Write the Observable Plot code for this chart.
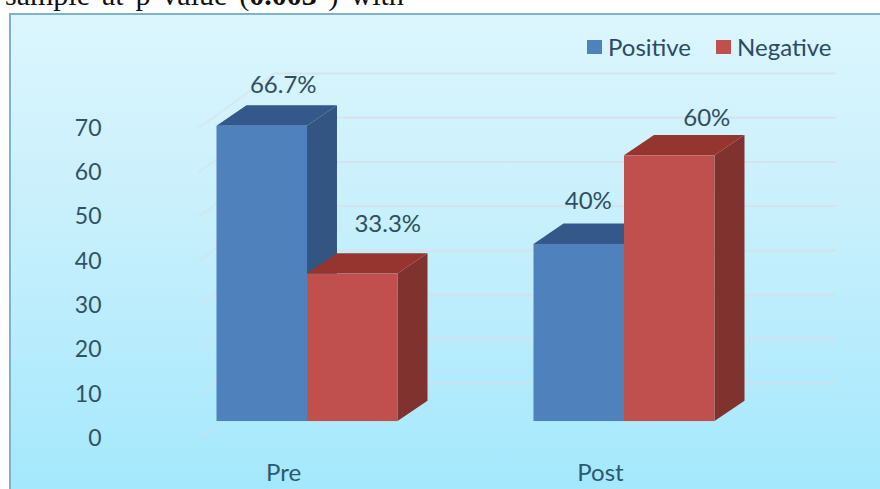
<!DOCTYPE html>
<html>
<head>
<meta charset="utf-8">
<script src="https://cdn.jsdelivr.net/npm/d3@7"></script>
<script src="https://cdn.jsdelivr.net/npm/@observablehq/plot@0.6"></script>
<style>
  html, body { margin: 0; padding: 0; background: #fff; overflow: hidden; }
  #stage { position: relative; width: 880px; height: 489px; overflow: hidden; font-family: Lato, sans-serif; }
  #intro { position: absolute; left: 5px; top: -22px; font: 30px/34px "Liberation Serif", serif; color: #111; word-spacing: 4.4px; white-space: nowrap; }
  #panel { position: absolute; left: 9px; top: 13px; width: 880px; height: 490px; box-sizing: border-box;
           border: 2px solid #7fb2c9; border-right: 0; border-bottom: 0;
           background: linear-gradient(#dcf6fd 0%, #c6effc 45%, #a2e8fd 100%); }
  #chart { position: absolute; left: 0; top: 0; }
  #chart svg { background: none; }
  #legend { position: absolute; top: 32px; left: 587px; display: flex; align-items: center; font-size: 24px; color: #2b4a66; }
  #legend span.sw { display: inline-block; width: 15px; height: 14px; margin-right: 6px; }
  #legend span.name { margin-right: 25px; }
</style>
</head>
<body>
<div id="stage">
  <div id="intro">sample at p value (<b>0.003</b> ) with</div>
  <div id="panel"></div>
  <div id="chart"></div>
  <div id="legend"></div>
</div>
<script>
// Share of positive and negative results before and after, as 3D clustered columns.
const categories = ["Pre", "Post"];
const seriesNames = ["Positive", "Negative"];
const positive = [66.7, 40];
const negative = [33.3, 60];
const yTicks = [0, 10, 20, 30, 40, 50, 60, 70];

const palette = {
  Positive: { front: "#4f81bd", top: "#35588a", side: "#335581" },
  Negative: { front: "#c0504d", top: "#96352f", side: "#80322e" }
};

// Oblique projection: how far each plane is lifted and shifted, in data units.
const barWidth = 0.2855;
const barLift = 3.6, barDepthY = 4.6, barDepthX = 0.0946;
const wallLift = 12.2, wallDepthX = 0.2366;
const wallLeft = -0.3413, wallRight = 1.6697;

// Label placement relative to the top of each column (pixels).
const labelNudge = { "Pre|Positive": [21, -20], "Pre|Negative": [35, -29], "Post|Positive": [9, -23], "Post|Negative": [37, -17] };

const bars = categories.flatMap((category, i) => [
  { category, series: "Positive", value: positive[i], x1: i - barWidth, x2: i },
  { category, series: "Negative", value: negative[i], x1: i, x2: i + barWidth }
]);

const grid = yTicks.map((v) => ({ v, back: v + wallLift }));

// Each column is a front rectangle plus top and side parallelograms.
const columnMarks = bars.flatMap((b) => {
  const base = barLift, top = b.value + barLift;
  const side = [
    { x: b.x2, y1: base, y2: top },
    { x: b.x2 + barDepthX, y1: base + barDepthY, y2: top + barDepthY }
  ];
  const lid = [
    { y: top, x1: b.x1, x2: b.x2 },
    { y: top + barDepthY, x1: b.x1 + barDepthX, x2: b.x2 + barDepthX }
  ];
  return [
    Plot.areaY(side, { x: "x", y1: "y1", y2: "y2", fill: palette[b.series].side }),
    Plot.areaX(lid, { y: "y", x1: "x1", x2: "x2", fill: palette[b.series].top }),
    Plot.rect([b], { x1: "x1", x2: "x2", y1: () => base, y2: () => top, fill: palette[b.series].front })
  ];
});

const labelMarks = bars.map((b) => {
  const [dx, dy] = labelNudge[`${b.category}|${b.series}`];
  return Plot.text([b], {
    x: (d) => (d.x1 + d.x2) / 2,
    y: (d) => d.value + barLift + barDepthY,
    text: (d) => `${d.value}%`,
    dx, dy,
    fontSize: 24,
    fill: "#2f4f60"
  });
});

const chart = Plot.plot({
  width: 880,
  height: 489,
  marginTop: 0, marginRight: 0, marginBottom: 34, marginLeft: 105,
  style: { fontFamily: "Lato, sans-serif", background: "none" },
  x: { type: "linear", domain: [0, 1], range: [307, 624], axis: null },
  y: { domain: [0, 70], range: [437, 127], axis: null },
  marks: [
    // Faint side wall diagonals, then the back wall gridlines.
    ...grid.map((g) => Plot.line(
      [{ x: wallLeft, y: g.v }, { x: wallLeft + wallDepthX, y: g.back }],
      { x: "x", y: "y", stroke: "#d5dfe6", strokeWidth: 2, strokeOpacity: 0.5 }
    )),
    Plot.ruleY(grid, { y: "back", x1: wallLeft + wallDepthX, x2: wallRight, stroke: "#d5dfe6", strokeWidth: 2, strokeOpacity: 0.75 }),
    ...columnMarks,
    ...labelMarks,
    Plot.axisY(yTicks, { anchor: "left", tickSize: 0, tickPadding: 4, fontSize: 23, color: "#2f5365", label: null, dy: 1 }),
    Plot.axisX([0, 1], { anchor: "bottom", tickSize: 0, tickPadding: 8, fontSize: 24, color: "#2a5a70",
      tickFormat: (i) => categories[i], dx: -24, label: null })
  ]
});
document.getElementById("chart").append(chart);

// Legend sits inside the panel, top right.
const legend = document.getElementById("legend");
seriesNames.forEach((name) => {
  const sw = document.createElement("span");
  sw.className = "sw";
  sw.style.background = palette[name].front;
  const label = document.createElement("span");
  label.className = "name";
  label.textContent = name;
  legend.append(sw, label);
});
</script>
</body>
</html>
